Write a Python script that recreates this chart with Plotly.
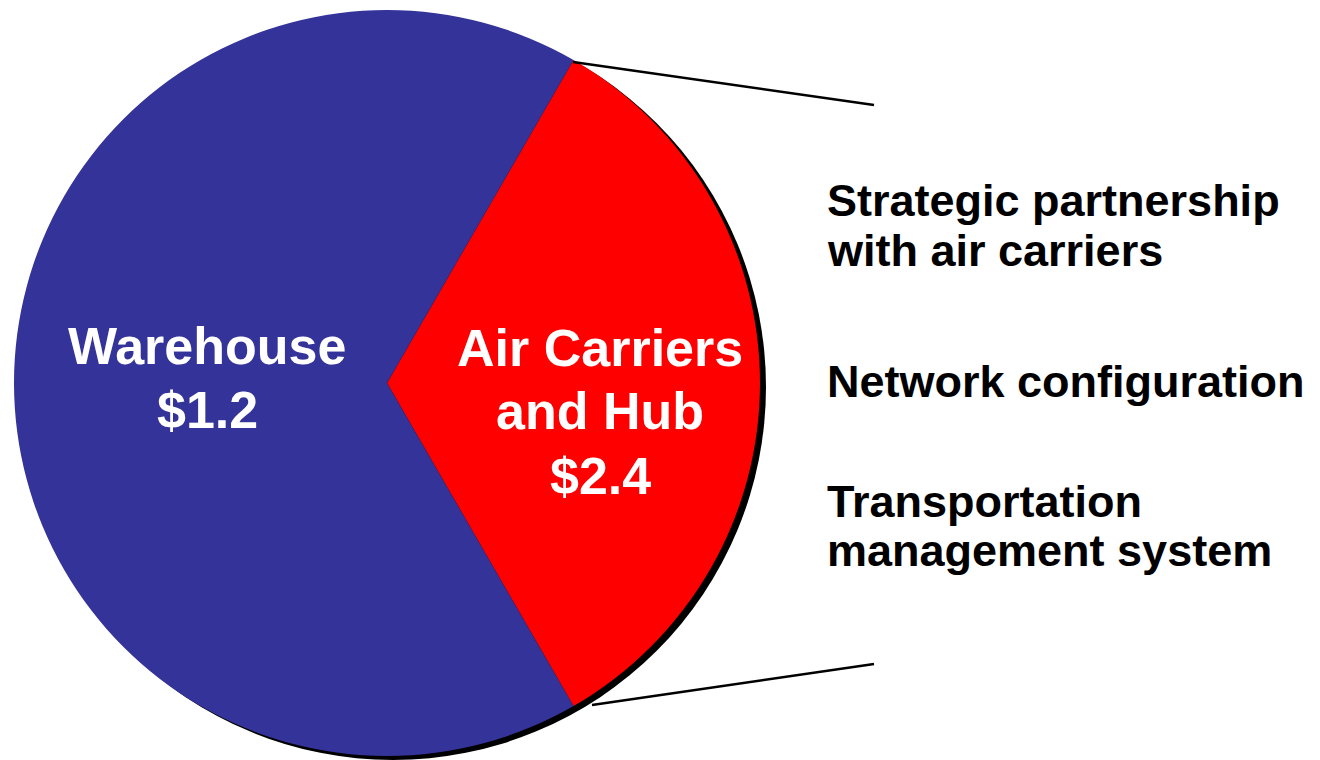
import plotly.graph_objects as go

W, H = 1320, 760
OFF = 8  # page body margin in the browser

# ---- data ----
slice_labels = ["Air Carriers and Hub", "Warehouse"]
slice_amounts = ["$2.4", "$1.2"]
slice_share = [1, 2]          # share of the circle as drawn (120 deg vs 240 deg)
label_lines = [["Air Carriers", "and Hub", "$2.4"], ["Warehouse", "$1.2"]]
notes = ["Strategic partnership", "with air carriers",
         "Network configuration",
         "Transportation", "management system"]

# ---- styles ----
BLUE = "#333399"
RED = "#FF0000"
FONT = "Liberation Sans, Arial, sans-serif"


def px(x):
    return (x - OFF) / W


def py(y):
    return 1 - (y - OFF) / H


fig = go.Figure()

# shadow pie (offset a few px right / down)
sx, sy = 6, 4
fig.add_trace(go.Pie(
    values=[1], labels=["shadow"], marker=dict(colors=["#000000"]),
    textinfo="none", hoverinfo="skip", showlegend=False, sort=False,
    domain=dict(x=[px(12 + sx), px(762 + sx)], y=[py(756 + sy), py(10 + sy)]),
))

fig.add_trace(go.Pie(
    values=slice_share, labels=slice_labels,
    marker=dict(colors=[RED, BLUE], line=dict(width=0)),
    textinfo="none", sort=False, direction="clockwise", rotation=30,
    showlegend=False,
    domain=dict(x=[px(12), px(762)], y=[py(756), py(10)]),
))

annotations = []
# in-slice labels
fs_in = 52
centers_x = [600, 207]
baselines = [[364, 427, 492], [362, 426]]
for lines, cx, bls in zip(label_lines, centers_x, baselines):
    for t, b in zip(lines, bls):
        annotations.append(dict(
            x=px(cx), y=py(b - 0.3 * fs_in), xref="paper", yref="paper",
            text=t, showarrow=False, xanchor="center", yanchor="middle",
            font=dict(family=FONT, size=fs_in, color="#FFFFFF", weight="bold"),
        ))

# right-side notes
fs_n = 45
note_baselines = [214, 264, 395, 515, 564]
for t, b in zip(notes, note_baselines):
    annotations.append(dict(
        x=px(825), y=py(b - 0.3 * fs_n), xref="paper", yref="paper",
        text=t, showarrow=False, xanchor="left", yanchor="middle",
        font=dict(family=FONT, size=fs_n, color="#000000", weight="bold"),
    ))

shapes = [
    dict(type="line", xref="paper", yref="paper",
         x0=px(573), y0=py(62), x1=px(874), y1=py(105),
         line=dict(color="#000000", width=2.5)),
    dict(type="line", xref="paper", yref="paper",
         x0=px(592), y0=py(705), x1=px(874), y1=py(664),
         line=dict(color="#000000", width=2.5)),
]

fig.update_layout(
    width=W, height=H,
    margin=dict(l=0, r=0, t=0, b=0),
    paper_bgcolor="#FFFFFF", plot_bgcolor="#FFFFFF",
    annotations=annotations, shapes=shapes,
    showlegend=False,
)

fig.write_html("out.html")
